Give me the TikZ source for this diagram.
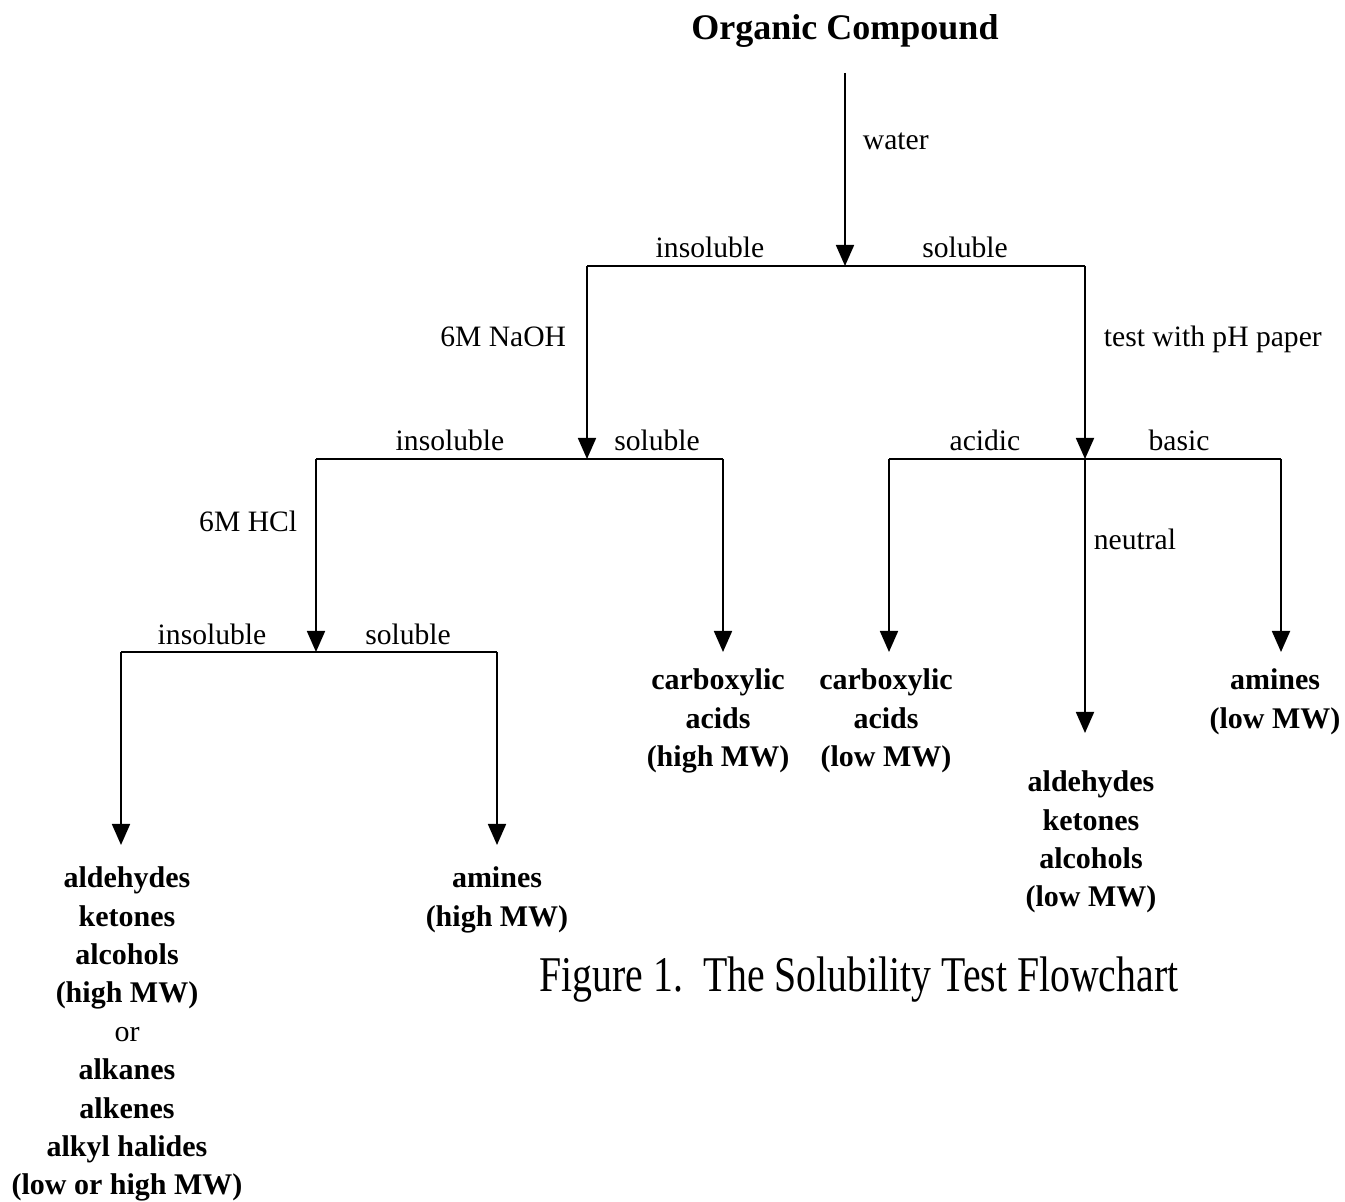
\documentclass[tikz,border=0pt]{standalone}
\usepackage{fontspec}
\setmainfont{Liberation Serif}
\usepackage{graphicx}
\usetikzlibrary{arrows.meta}
\begin{document}
\begin{tikzpicture}[x=0.5pt,y=-0.5pt, line width=0.9pt,
  arr/.style={-{Triangle[width=9pt,length=10.5pt]}},
  lbl/.style={font=\fontsize{14.8}{17}\selectfont, inner sep=0pt, anchor=base},
  res/.style={font=\fontsize{15}{19.2}\selectfont\bfseries, align=center, anchor=north, inner xsep=0pt},
]
\useasboundingbox (0,0) rectangle (1345,1202);

% title
\node[font=\fontsize{18}{22}\selectfont\bfseries, anchor=base, text depth=0pt, inner xsep=0pt, inner ysep=16pt] (oc) at (845,40) {Organic Compound};

% junctions
\coordinate (j1) at (845,266);
\coordinate (L1) at (587,266); \coordinate (R1) at (1085,266);
\coordinate (j2) at (587,459); \coordinate (L2) at (316,459); \coordinate (R2) at (723,459);
\coordinate (j3) at (1085,459); \coordinate (L3) at (889,459); \coordinate (R3) at (1281,459);
\coordinate (j4) at (316,652); \coordinate (L4) at (121,652); \coordinate (R4) at (497,652);

% results
\node[res, inner ysep=8pt] (chigh) at (718,652) {carboxylic\\acids\\(high MW)};
\node[res, inner ysep=8pt] (clow) at (886,652) {carboxylic\\acids\\(low MW)};
\node[res, inner ysep=8pt] (amlow) at (1275,652) {amines\\(low MW)};
\node[res, inner ysep=18.5pt] (aldlow) at (1091,733) {aldehydes\\ketones\\alcohols\\(low MW)};
\node[res, inner ysep=10.5pt] (amhigh) at (497,845) {amines\\(high MW)};
\node[res, inner ysep=10.5pt] (left) at (127,845) {aldehydes\\ketones\\alcohols\\(high MW)\\{\mdseries or}\\alkanes\\alkenes\\alkyl halides\\(low or high MW)};

% caption
\node[anchor=base, inner sep=0pt, font=\fontsize{25}{30}\selectfont] (cap) at (859,992) {\scalebox{0.795}[1]{Figure 1.\ \ The Solubility Test Flowchart}};

% connectors
\draw[arr] (oc.south) -- (j1);
\draw (L1) -- (R1);
\draw[arr] (L1) -- (j2);
\draw[arr] (R1) -- (j3);
\draw (L2) -- (R2);
\draw[arr] (L2) -- (j4);
\draw[arr] (R2) -- (R2 |- chigh.north);
\draw (L3) -- (R3);
\draw[arr] (L3) -- (L3 |- clow.north);
\draw[arr] (R3) -- (R3 |- amlow.north);
\draw[arr] (j3) -- (j3 |- aldlow.north);
\draw (L4) -- (R4);
\draw[arr] (L4) -- (L4 |- left.north);
\draw[arr] (R4) -- (R4 |- amhigh.north);

% labels
\node[lbl, anchor=base west] (w) at (862,150) {water};
\node[lbl] (i1) at (710,258) {insoluble};
\node[lbl] (s1) at (965,258) {soluble};
\node[lbl, anchor=base east] (naoh) at (567,347) {6M NaOH};
\node[lbl, anchor=base west] (ph) at (1103,347) {test with pH paper};
\node[lbl] (i2) at (450,451) {insoluble};
\node[lbl] (s2) at (657,451) {soluble};
\node[lbl] (ac) at (985,451) {acidic};
\node[lbl] (ba) at (1179,451) {basic};
\node[lbl, anchor=base east] (hcl) at (298,532) {6M HCl};
\node[lbl, anchor=base west] (ne) at (1093,550) {neutral};
\node[lbl] (i3) at (212,645) {insoluble};
\node[lbl] (s3) at (408,645) {soluble};
\end{tikzpicture}
\end{document}
